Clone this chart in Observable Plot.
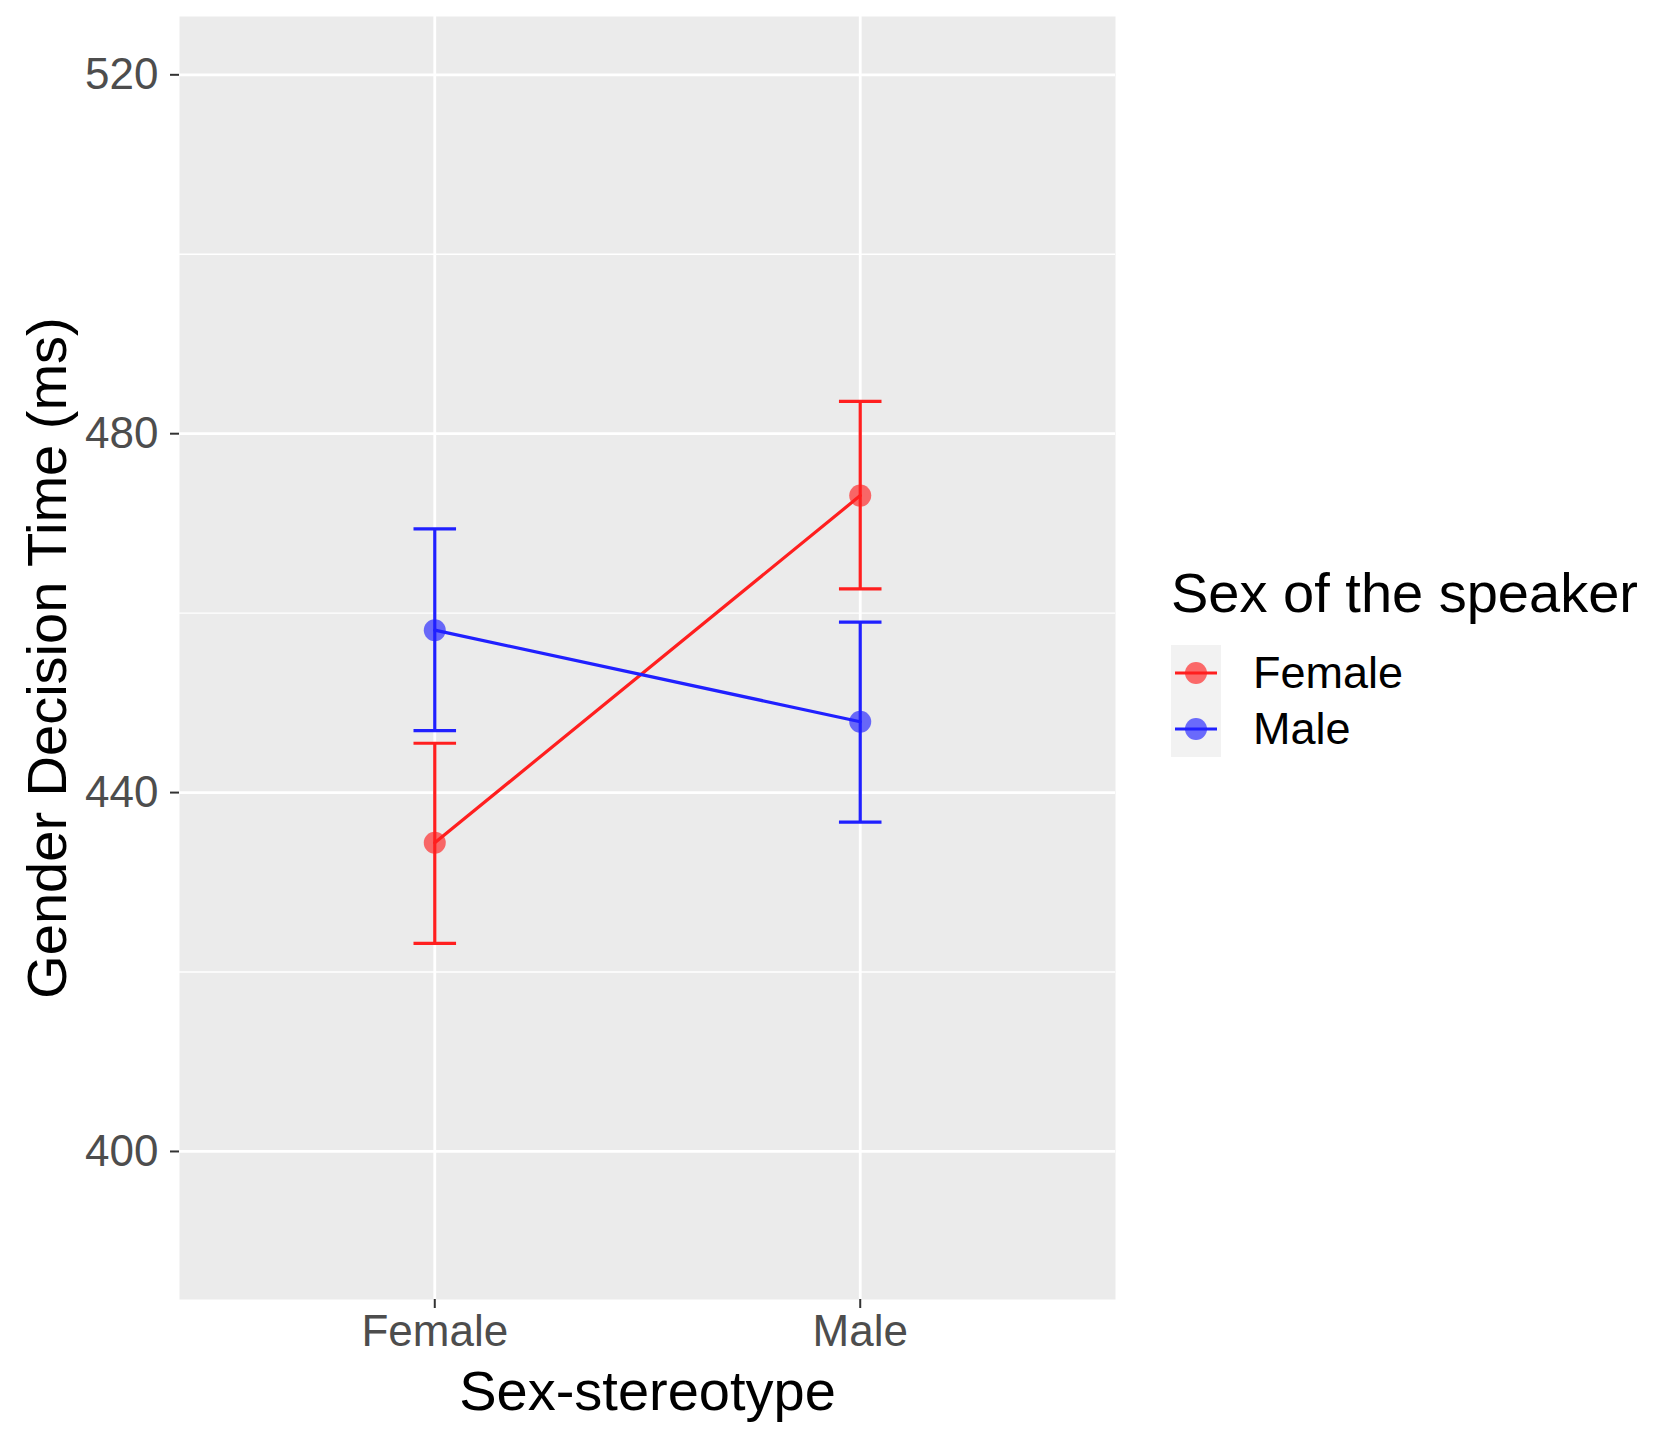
<!DOCTYPE html>
<html>
<head>
<meta charset="utf-8">
<script src="https://cdn.jsdelivr.net/npm/d3@7"></script>
<script src="https://cdn.jsdelivr.net/npm/@observablehq/plot@0.6"></script>
<style>
  body { margin: 0; background: white; }
  #wrap { position: relative; width: 1669px; height: 1437px; font-family: "Liberation Sans", Arial, sans-serif; }
  #chart { position: absolute; left: 0; top: 0; }
  #legend { position: absolute; left: 1171px; top: 565px; color: #000; }
  #legend .title { font-size: 56px; line-height: 56px; white-space: nowrap; }
  #legend .items { margin-top: 24px; }
  #legend .row { display: flex; align-items: center; height: 56px; }
  #legend .row svg { display: block; }
  #legend .lab { font-size: 45px; margin-left: 32px; }
</style>
</head>
<body>
<div id="wrap">
  <div id="chart"></div>
  <div id="legend"></div>
</div>
<script>
// ---- data ----
const categories = ["Female", "Male"];          // Sex-stereotype (x)
const speakers = ["Female", "Male"];            // Sex of the speaker (colour)
const speakerColors = ["#ff1f1f", "#2020ff"];
const femaleMean = [434.4, 473.1];
const femaleLow  = [423.2, 462.7];
const femaleHigh = [445.5, 483.6];
const maleMean = [458.1, 447.9];
const maleLow  = [446.9, 436.7];
const maleHigh = [469.4, 459.0];
const yTicks = [400, 440, 480, 520];
const yMinor = [420, 460, 500];
const yDomain = [383.5, 526.5];
const xTitle = "Sex-stereotype";
const yTitle = "Gender Decision Time (ms)";
const legendTitle = "Sex of the speaker";

const series = {
  Female: {mean: femaleMean, low: femaleLow, high: femaleHigh},
  Male: {mean: maleMean, low: maleLow, high: maleHigh}
};
const rows = speakers.flatMap(s => categories.map((c, i) => ({
  pos: i + 1, stereo: c, speaker: s,
  mean: series[s].mean[i], low: series[s].low[i], high: series[s].high[i]
})));
const capHalf = 0.05;
const lw = 3.2;

const chart = Plot.plot({
  width: 1669,
  height: 1437,
  marginLeft: 179,
  marginRight: 554,
  marginTop: 16,
  marginBottom: 138,
  style: {fontFamily: "'Liberation Sans', Arial, sans-serif", background: "white", overflow: "visible"},
  x: {type: "linear", domain: [0.4, 2.6]},
  y: {domain: yDomain},
  color: {domain: speakers, range: speakerColors},
  marks: [
    Plot.frame({fill: "#ebebeb", stroke: null}),
    Plot.ruleY(yMinor, {stroke: "white", strokeWidth: 1.4}),
    Plot.ruleY(yTicks, {stroke: "white", strokeWidth: 2.8}),
    Plot.ruleX(categories.map((c, i) => i + 1), {stroke: "white", strokeWidth: 2.8}),
    Plot.ruleX(rows, {x: "pos", y1: "low", y2: "high", stroke: "speaker", strokeWidth: lw}),
    Plot.link(rows, {x1: d => d.pos - capHalf, x2: d => d.pos + capHalf, y1: "high", y2: "high", stroke: "speaker", strokeWidth: lw}),
    Plot.link(rows, {x1: d => d.pos - capHalf, x2: d => d.pos + capHalf, y1: "low", y2: "low", stroke: "speaker", strokeWidth: lw}),
    Plot.line(rows, {x: "pos", y: "mean", z: "speaker", stroke: "speaker", strokeWidth: lw}),
    Plot.dot(rows, {x: "pos", y: "mean", fill: "speaker", r: 11, fillOpacity: 0.65, stroke: null}),
    Plot.axisX({ticks: categories.map((c, i) => i + 1), tickFormat: v => categories[v - 1], tickSize: 9, tickPadding: 6,
      fontSize: 44, stroke: "#333", fill: "#4d4d4d", strokeWidth: 2, label: null}),
    Plot.axisY({ticks: yTicks, tickSize: 9, tickPadding: 12, fontSize: 44, stroke: "#333", fill: "#4d4d4d", strokeWidth: 2, label: null}),
    Plot.text([xTitle], {frameAnchor: "bottom", textAnchor: "middle", dy: 110, fontSize: 56, fill: "black"}),
    Plot.text([yTitle], {frameAnchor: "left", textAnchor: "middle", rotate: -90, dx: -131, fontSize: 56, fill: "black"})
  ]
});
document.getElementById("chart").appendChild(chart);

// ---- legend ----
const leg = d3.select("#legend");
leg.append("div").attr("class", "title").text(legendTitle);
const items = leg.append("div").attr("class", "items");
speakers.forEach((s, i) => {
  const row = items.append("div").attr("class", "row");
  const svg = row.append("svg").attr("width", 50).attr("height", 56);
  svg.append("rect").attr("x", 0).attr("y", 0).attr("width", 50).attr("height", 56).attr("fill", "#f2f2f2");
  svg.append("line").attr("x1", 4).attr("x2", 46).attr("y1", 28).attr("y2", 28).attr("stroke", speakerColors[i]).attr("stroke-width", lw);
  svg.append("circle").attr("cx", 25).attr("cy", 28).attr("r", 11).attr("fill", speakerColors[i]).attr("fill-opacity", 0.65);
  row.append("div").attr("class", "lab").text(s);
});
</script>
</body>
</html>
